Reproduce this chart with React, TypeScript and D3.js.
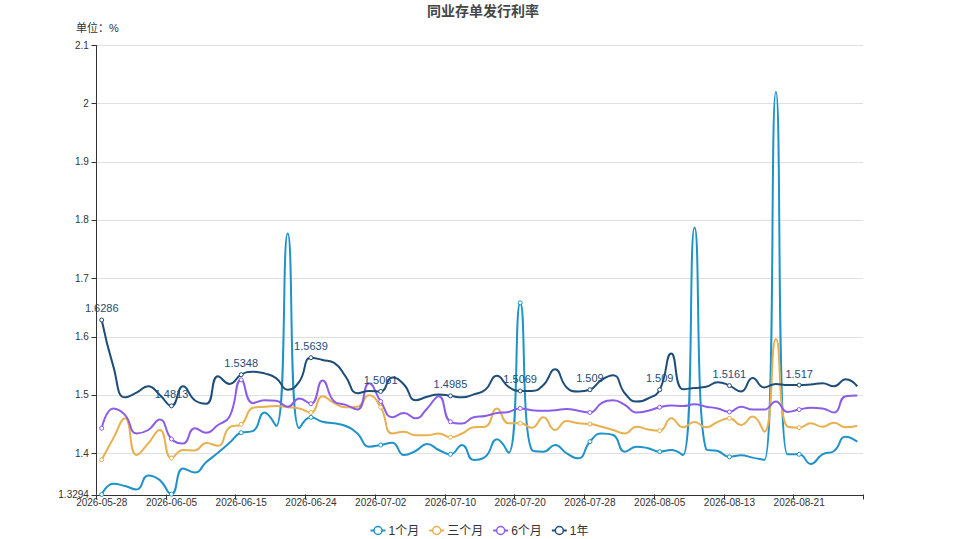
import React from "react";
import * as d3 from "d3";

// ---------- data ----------
const dates: string[] = [
  "2026-05-28","2026-05-29","2026-06-01","2026-06-02","2026-06-03","2026-06-04",
  "2026-06-05","2026-06-08","2026-06-09","2026-06-10","2026-06-11","2026-06-12",
  "2026-06-15","2026-06-16","2026-06-17","2026-06-18","2026-06-22","2026-06-23",
  "2026-06-24","2026-06-25","2026-06-26","2026-06-29","2026-06-30","2026-07-01",
  "2026-07-02","2026-07-03","2026-07-06","2026-07-07","2026-07-08","2026-07-09",
  "2026-07-10","2026-07-13","2026-07-14","2026-07-15","2026-07-16","2026-07-17",
  "2026-07-20","2026-07-21","2026-07-22","2026-07-23","2026-07-24","2026-07-27",
  "2026-07-28","2026-07-29","2026-07-30","2026-07-31","2026-08-03","2026-08-04",
  "2026-08-05","2026-08-06","2026-08-07","2026-08-10","2026-08-11","2026-08-12",
  "2026-08-13","2026-08-14","2026-08-17","2026-08-18","2026-08-19","2026-08-20",
  "2026-08-21","2026-08-24","2026-08-25","2026-08-26","2026-08-27","2026-08-28",
];

const oneMonth: number[] = [
  1.3294, 1.348, 1.344, 1.338, 1.362, 1.354,
  1.330, 1.374, 1.367, 1.385, 1.401, 1.418,
  1.4354, 1.438, 1.470, 1.4468, 1.777, 1.443,
  1.4617, 1.454, 1.4514, 1.4468, 1.434, 1.4114,
  1.4142, 1.4183, 1.397, 1.404, 1.416, 1.4057,
  1.3983, 1.4142, 1.3885, 1.394, 1.424, 1.401,
  1.658, 1.4057, 1.4028, 1.4142, 1.400, 1.3914,
  1.420, 1.434, 1.4314, 1.4028, 1.4114, 1.4086,
  1.4028, 1.4057, 1.397, 1.787, 1.4069, 1.404,
  1.394, 1.3966, 1.3926, 1.3885, 2.020, 1.3983,
  1.3983, 1.3817, 1.3983, 1.404, 1.4286, 1.420,
];

const threeMonth: number[] = [
  1.389, 1.426, 1.460, 1.397, 1.417, 1.440,
  1.392, 1.4057, 1.405, 1.4177, 1.413, 1.4446,
  1.4497, 1.478, 1.480, 1.481, 1.479, 1.477,
  1.470, 1.498, 1.486, 1.479, 1.480, 1.4994,
  1.479, 1.434, 1.437, 1.431, 1.431, 1.434,
  1.4274, 1.434, 1.4446, 1.4457, 1.477, 1.4514,
  1.4514, 1.444, 1.4617, 1.440, 1.4554, 1.4514,
  1.4503, 1.4457, 1.440, 1.434, 1.4457, 1.441,
  1.4388, 1.460, 1.4446, 1.4537, 1.4446, 1.454,
  1.460, 1.4486, 1.463, 1.437, 1.596, 1.4457,
  1.444, 1.4514, 1.4457, 1.4526, 1.4446, 1.4474,
];

const sixMonth: number[] = [
  1.443, 1.477, 1.466, 1.434, 1.440, 1.458,
  1.4245, 1.417, 1.443, 1.4354, 1.4485, 1.463,
  1.526, 1.486, 1.491, 1.490, 1.480, 1.494,
  1.485, 1.525, 1.489, 1.483, 1.475, 1.520,
  1.489, 1.462, 1.469, 1.460, 1.477, 1.498,
  1.454, 1.451, 1.462, 1.464, 1.469, 1.471,
  1.477, 1.474, 1.473, 1.474, 1.476, 1.473,
  1.470, 1.486, 1.491, 1.483, 1.470, 1.473,
  1.479, 1.482, 1.481, 1.484, 1.480, 1.477,
  1.471, 1.480, 1.475, 1.475, 1.489, 1.471,
  1.475, 1.478, 1.477, 1.470, 1.498, 1.499,
];

const oneYear: number[] = [
  1.6286, 1.549, 1.496, 1.504, 1.515, 1.500,
  1.4813, 1.515, 1.491, 1.485, 1.532, 1.519,
  1.5348, 1.540, 1.537, 1.529, 1.509, 1.523,
  1.5639, 1.560, 1.555, 1.531, 1.503, 1.507,
  1.5061, 1.530, 1.518, 1.491, 1.497, 1.501,
  1.4985, 1.496, 1.501, 1.509, 1.533, 1.514,
  1.5069, 1.507, 1.517, 1.544, 1.513, 1.506,
  1.509, 1.526, 1.534, 1.503, 1.489, 1.494,
  1.509, 1.571, 1.510, 1.512, 1.514, 1.522,
  1.5161, 1.506, 1.529, 1.513, 1.519, 1.517,
  1.517, 1.518, 1.520, 1.515, 1.527, 1.515,
];

const seriesNames: string[] = ["1个月", "三个月", "6个月", "1年"];
const seriesColors: string[] = ["#1f92c9", "#e8b04e", "#8b5ce8", "#1e4d78"];
const yTicks: number[] = [1.3294, 1.4, 1.5, 1.6, 1.7, 1.8, 1.9, 2.0, 2.1];
const yMin = 1.3294;
const yMax = 2.1;
const title = "同业存单发行利率";
const unitLabel = "单位：%";

// ---------- ECharts-like smooth curve for d3.line ----------
class EChartsSmooth {
  _context: any;
  _pts: [number, number][] = [];
  _line = NaN;
  constructor(context: any) {
    this._context = context;
  }
  areaStart() { this._line = 0; }
  areaEnd() { this._line = NaN; }
  lineStart() { this._pts = []; }
  point(x: number, y: number) { this._pts.push([+x, +y]); }
  lineEnd() {
    const pts = this._pts;
    const n = pts.length;
    const ctx = this._context;
    const s = 0.5;
    if (!n) return;
    let px = pts[0][0], py = pts[0][1];
    ctx.moveTo(px, py);
    let cpx0 = px, cpy0 = py;
    for (let i = 1; i < n; i++) {
      const x = pts[i][0], y = pts[i][1];
      let cpx1: number, cpy1: number, ncx = x, ncy = y;
      if (i + 1 >= n) {
        cpx1 = x; cpy1 = y;
      } else {
        const nx = pts[i + 1][0], ny = pts[i + 1][1];
        let vx = nx - px, vy = ny - py;
        const lp = Math.hypot(x - px, y - py);
        const ln = Math.hypot(nx - x, ny - y);
        const r = ln / (ln + lp);
        ncx = x + vx * s * r; ncy = y + vy * s * r;
        ncx = Math.min(ncx, Math.max(nx, x)); ncy = Math.min(ncy, Math.max(ny, y));
        ncx = Math.max(ncx, Math.min(nx, x)); ncy = Math.max(ncy, Math.min(ny, y));
        vx = ncx - x; vy = ncy - y;
        cpx1 = x - vx * lp / ln; cpy1 = y - vy * lp / ln;
        cpx1 = Math.min(cpx1, Math.max(px, x)); cpy1 = Math.min(cpy1, Math.max(py, y));
        cpx1 = Math.max(cpx1, Math.min(px, x)); cpy1 = Math.max(cpy1, Math.min(py, y));
        vx = x - cpx1; vy = y - cpy1;
        ncx = x + vx * ln / lp; ncy = y + vy * ln / lp;
      }
      ctx.bezierCurveTo(cpx0, cpy0, cpx1, cpy1, x, y);
      cpx0 = ncx; cpy0 = ncy; px = x; py = y;
    }
  }
}
const curveECharts = (context: any) => new EChartsSmooth(context) as any;

// ---------- layout ----------
const W = 959;
const H = 539;
const left = 95.9;
const right = 863.1;
const top = 45;
const bottom = 494.5;
const FONT = "'Liberation Sans', 'Noto Sans CJK SC', Arial, sans-serif";
const labelInterval = 6;

export default function App() {
  const x = d3.scaleBand<string>().domain(dates).range([left, right]).paddingInner(0).paddingOuter(0);
  const step = x.step();
  const cx = (d: string) => (x(d) as number) + step / 2;
  const y = d3.scaleLinear().domain([yMin, yMax]).range([bottom, top]);

  const all = [oneMonth, threeMonth, sixMonth, oneYear];
  const line = d3
    .line<number>()
    .x((_, i) => cx(dates[i]))
    .y((v) => y(v))
    .curve(curveECharts);

  const markerIdx = dates.map((_, i) => i).filter((i) => i % labelInterval === 0);
  const tickIdx = d3.range(0, dates.length + 1, labelInterval);

  const fmtY = (v: number) => (v === yMin ? String(yMin) : d3.format("~g")(+v.toFixed(4)));

  // legend layout
  const textW = (s: string) =>
    Array.from(s).reduce((a, c) => a + (/[\u4e00-\u9fff]/.test(c) ? 12 : 6.67), 0);
  const itemWs = seriesNames.map((n) => 18 + textW(n));
  const legendTotal = d3.sum(itemWs) + 10 * (seriesNames.length - 1);
  let lx = W / 2 - legendTotal / 2;
  const legendPos = itemWs.map((w) => {
    const p = lx;
    lx += w + 10;
    return p;
  });
  const legendY = 530.5;

  return (
    <div style={{ position: "absolute", left: 0, top: 0, width: W, height: H, background: "#fff" }}>
      <svg width={W} height={H} style={{ display: "block", fontFamily: FONT }}>
        <rect width={W} height={H} fill="#fff" />
        {/* title */}
        <text x={483} y={15.5} textAnchor="middle" fontSize={14} fontWeight="bold" fill="#464646">
          {title}
        </text>
        <text x={76} y={31.5} fontSize={11} fill="#333">
          {unitLabel}
        </text>

        {/* grid lines */}
        {yTicks
          .filter((t) => t !== yMin)
          .map((t) => (
            <line key={t} x1={left} x2={right} y1={Math.round(y(t)) + 0.5} y2={Math.round(y(t)) + 0.5} stroke="#e0e0e0" strokeWidth={1} />
          ))}

        {/* y axis */}
        <line x1={Math.round(left) + 0.5} x2={Math.round(left) + 0.5} y1={top} y2={bottom} stroke="#333" strokeWidth={1} />
        {yTicks.map((t) => (
          <g key={"yt" + t}>
            <line x1={Math.round(left) - 4.5} x2={Math.round(left) + 0.5} y1={Math.round(y(t)) + 0.5} y2={Math.round(y(t)) + 0.5} stroke="#333" />
            <text x={left - 7} y={y(t)} dy="0.35em" textAnchor="end" fontSize={10} fill="#333">
              {fmtY(t)}
            </text>
          </g>
        ))}

        {/* x axis */}
        <line x1={left} x2={right} y1={Math.round(bottom) + 0.5} y2={Math.round(bottom) + 0.5} stroke="#333" strokeWidth={1} />
        {tickIdx.map((i) => (
          <line key={"xt" + i} x1={Math.round(left + i * step) + 0.5} x2={Math.round(left + i * step) + 0.5} y1={bottom} y2={bottom + 5} stroke="#333" />
        ))}
        {markerIdx.map((i) => (
          <text key={"xl" + i} x={cx(dates[i])} y={506} textAnchor="middle" fontSize={10} fill="#333">
            {dates[i]}
          </text>
        ))}

        {/* lines */}
        {all.map((vals, si) => (
          <path key={"l" + si} d={line(vals) || ""} fill="none" stroke={seriesColors[si]} strokeWidth={2} strokeLinejoin="round" />
        ))}

        {/* markers */}
        {all.map((vals, si) =>
          markerIdx.map((i) => (
            <circle key={"m" + si + "-" + i} cx={cx(dates[i])} cy={y(vals[i])} r={2} fill="#fff" stroke={seriesColors[si]} strokeWidth={1} />
          ))
        )}

        {/* labels on 1年 */}
        {markerIdx.map((i) => (
          <text key={"dl" + i} x={cx(dates[i])} y={y(oneYear[i]) - 7.5} textAnchor="middle" fontSize={11} fill={seriesColors[3]}>
            {String(oneYear[i])}
          </text>
        ))}

        {/* legend */}
        {seriesNames.map((n, si) => (
          <g key={"lg" + si} transform={`translate(${legendPos[si]},${legendY})`}>
            <line x1={0} x2={15} y1={0} y2={0} stroke={seriesColors[si]} strokeWidth={2} />
            <circle cx={7.5} cy={0} r={4} fill="#fff" stroke={seriesColors[si]} strokeWidth={1.5} />
            <text x={18} y={0} dy="0.35em" fontSize={12} fill="#333">
              {n}
            </text>
          </g>
        ))}
      </svg>
    </div>
  );
}
